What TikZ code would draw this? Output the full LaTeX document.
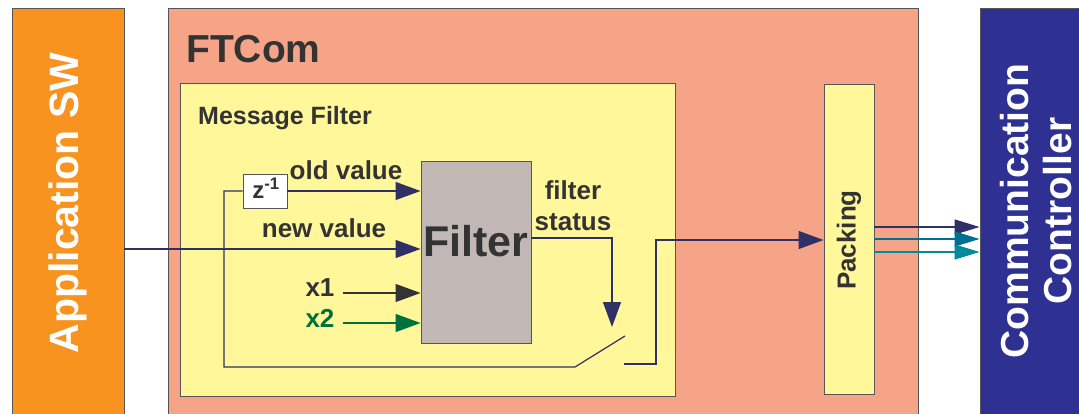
\documentclass[tikz,border=0pt]{standalone}
\usepackage{fontspec}
\setmainfont{Liberation Sans}
\usetikzlibrary{arrows.meta}
\definecolor{apporange}{HTML}{F7931E}
\definecolor{ftsalmon}{HTML}{F6A488}
\definecolor{mfyellow}{HTML}{FFF799}
\definecolor{filtgray}{HTML}{C1B7B5}
\definecolor{ccblue}{HTML}{2E3192}
\definecolor{txt}{HTML}{333333}
\definecolor{navy}{HTML}{2E3066}
\definecolor{grn}{HTML}{00703C}
\definecolor{tealA}{HTML}{00708F}
\definecolor{tealB}{HTML}{008A9A}
\definecolor{edge}{HTML}{555555}
\tikzset{
  blk/.style={draw=edge, line width=0.9pt, inner sep=0pt, anchor=center},
  lbl/.style={text=txt, font=\bfseries\fontsize{26}{30}\selectfont, inner sep=0pt},
  wire/.style={draw=navy, line width=1.2pt},
  arr/.style={wire, -{Triangle[length=25pt,width=18pt]}},
  sarr/.style={-{Triangle[length=25pt,width=15pt]}, line width=1.2pt},
}
\begin{document}
\begin{tikzpicture}[x=1pt,y=-1pt]
\useasboundingbox (0,0) rectangle (1079,414);
% main blocks
\node[blk, fill=apporange, minimum width=112pt, minimum height=410pt] (app) at (68,213) {};
\node[blk, fill=ftsalmon, minimum width=750pt, minimum height=410pt] (ftcom) at (543,213) {};
\node[blk, fill=ccblue, minimum width=104pt, minimum height=410pt] (comm) at (1032,213) {};
\node[blk, fill=mfyellow, minimum width=495pt, minimum height=313pt] (mf) at (427.5,239.5) {};
\node[blk, fill=mfyellow, minimum width=50pt, minimum height=310pt] (pack) at (849,239) {};
\node[blk, fill=filtgray, minimum width=110pt, minimum height=182pt] (filter) at (476,252) {};
\node[blk, fill=white, minimum width=44pt, minimum height=34pt] (z) at (265,191) {};
% texts
\node[text=white, font=\bfseries\fontsize{41}{45}\selectfont, rotate=90, inner sep=0pt] (apptxt) at (68,203) {Application SW};
\node[text=white, font=\bfseries\fontsize{39}{43}\selectfont, rotate=90, inner sep=0pt, align=center] (cctxt) at (1036,211) {Communication\\Controller};
\node[text=txt, font=\bfseries\fontsize{39}{43}\selectfont, inner sep=0pt, anchor=base west] (fttxt) at (186,63) {FTCom};
\node[lbl, font=\bfseries\fontsize{25}{29}\selectfont, anchor=base west] (mftxt) at (198,125) {Message Filter};
\node[text=txt, font=\bfseries\fontsize{43}{47}\selectfont, inner sep=0pt, anchor=base] (filtxt) at (476,256) {Filter};
\node[lbl, rotate=90, font=\bfseries\fontsize{26}{30}\selectfont] (packtxt) at (849,240) {Packing};
\node[lbl, font=\bfseries\fontsize{24}{28}\selectfont, anchor=base] (ztxt) at (266,199) {z\textsuperscript{-1}};
\node[lbl, anchor=base] (oldtxt) at (346,180) {old value};
\node[lbl, anchor=base] (newtxt) at (324,238) {new value};
\node[lbl, anchor=base] (fstxt1) at (573,200) {filter};
\node[lbl, anchor=base] (fstxt2) at (573,230) {status};
\node[lbl, anchor=base] (x1txt) at (320,296) {x1};
\node[lbl, anchor=base, text=grn] (x2txt) at (320,327) {x2};
% coordinates
\coordinate (fbA) at (224,191);
\coordinate (fbB) at (224,367);
\coordinate (swA) at (575,367);
\coordinate (swB) at (625,336);
\coordinate (swC) at (624,364);
\coordinate (swD) at (656,364);
\coordinate (swE) at (656,240);
\coordinate (fsA) at (612,238);
\coordinate (fsB) at (612,327);
\coordinate (x1s) at (343,293);
\coordinate (x2s) at (343,323);
% connectors
\draw[arr] (app.east |- 0,249) -- (filter.west |- 0,249);
\draw[arr] (z.east) -- (filter.west |- z.east);
\draw[wire] (z.west) -- (fbA) -- (fbB) -- (swA) -- (swB);
\draw[arr] (swC) -- (swD) -- (swE) -- (pack.west |- swE);
\draw[arr] (filter.east |- fsA) -- (fsA) -- (fsB);
\draw[arr, draw=txt] (x1s) -- (filter.west |- x1s);
\draw[arr, draw=grn] (x2s) -- (filter.west |- x2s);
\draw[sarr, draw=navy] (pack.east |- 0,227) -- (comm.west |- 0,227);
\draw[sarr, draw=tealA] (pack.east |- 0,239) -- (comm.west |- 0,239);
\draw[sarr, draw=tealB] (pack.east |- 0,252) -- (comm.west |- 0,252);
\end{tikzpicture}
\end{document}
